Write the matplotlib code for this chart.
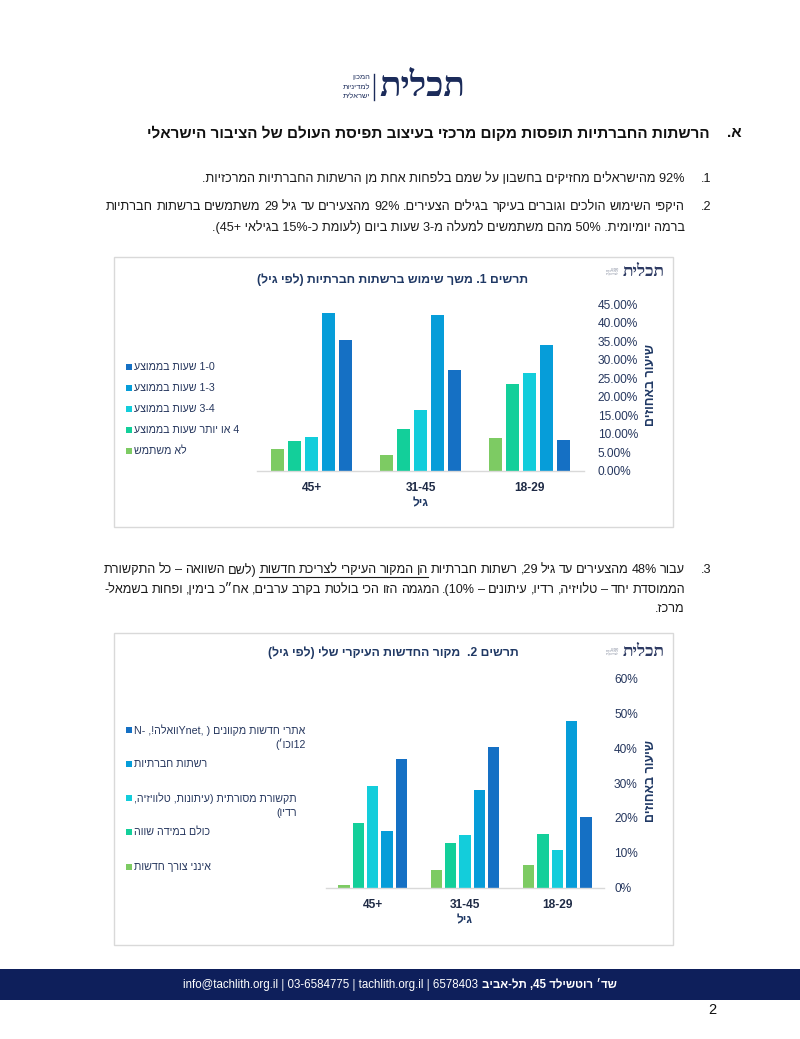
import re
import numpy as np
import matplotlib
matplotlib.use("Agg")
import matplotlib.pyplot as plt
from matplotlib import font_manager as fm
from matplotlib.ft2font import FT2Font
from matplotlib.patches import Rectangle

W, H = 800, 1039

# ---------------- data ----------------
age_groups = ["18-29", "31-45", "45+"]

usage_series = ["1-0 שעות בממוצע", "1-3 שעות בממוצע", "3-4 שעות בממוצע",
                "4 או יותר שעות בממוצע", "לא משתמש"]
usage_0_1 = [8.3, 27.1, 35.3]
usage_1_3 = [34.0, 42.0, 42.7]
usage_3_4 = [26.4, 16.4, 9.0]
usage_4_plus = [23.5, 11.4, 8.1]
usage_none = [8.9, 4.3, 6.0]
usage_ticks = [0, 5, 10, 15, 20, 25, 30, 35, 40, 45]
usage_tick_labels = ["0.00%", "5.00%", "10.00%", "15.00%", "20.00%",
                     "25.00%", "30.00%", "35.00%", "40.00%", "45.00%"]

news_series = [["RAW:N- ,!הלאווYnet, ) םינווקמ תושדח ירתא", "12וכו׳)"],
               ["רשתות חברתיות"],
               ["תקשורת מסורתית (עיתונות, טלוויזיה,", "רדיו)"],
               ["כולם במידה שווה"],
               ["אינני צורך חדשות"]]
news_sites = [20.4, 40.4, 36.9]
news_social = [47.9, 27.9, 16.2]
news_traditional = [10.8, 15.1, 29.0]
news_all_equal = [15.4, 12.7, 18.4]
news_none = [6.6, 5.0, 0.7]
news_ticks = [0, 10, 20, 30, 40, 50, 60]
news_tick_labels = ["0%", "10%", "20%", "30%", "40%", "50%", "60%"]

chart1_title = "תרשים 1. משך שימוש ברשתות חברתיות (לפי גיל)"
chart2_title = "תרשים 2.  מקור החדשות העיקרי שלי (לפי גיל)"
y_title = "שיעור באחוזים"
x_title = "גיל"

heading = "הרשתות החברתיות תופסות מקום מרכזי בעיצוב תפיסת העולם של הציבור הישראלי"
item1 = "92% מהישראלים מחזיקים בחשבון על שמם בלפחות אחת מן הרשתות החברתיות המרכזיות."
item2a = "היקפי השימוש הולכים וגוברים בעיקר בגילים הצעירים. 92% מהצעירים עד גיל 29 משתמשים ברשתות חברתיות"
item2b = "ברמה יומיומית. 50% מהם משתמשים למעלה מ-3 שעות ביום (לעומת כ-15% בגילאי 45+)."
item3a = "עבור 48% מהצעירים עד גיל 29, רשתות חברתיות הן המקור העיקרי לצריכת חדשות (לשם השוואה – כל התקשורת"
item3b = "הממוסדת יחד – טלויזיה, רדיו, עיתונים – 10%). המגמה הזו הכי בולטת בקרב ערבים, אח״כ בימין, ופחות בשמאל-"
item3c = "מרכז."
footer_latin = "info@tachlith.org.il | 03-6584775 | tachlith.org.il | 6578403 "
footer_heb = "שד׳ רוטשילד 45, תל-אביב"
logo_name = "תכלית"
logo_sub = ["המכון", "למדיניות", "ישראלית"]

# ---------------- colors ----------------
C_DARK = "#1570C4"
C_BLUE = "#069DD9"
C_CYAN = "#13CDDB"
C_GREEN = "#13CF9A"
C_LGREEN = "#7DCB63"
NAVY = "#1F3864"
TICK = "#26375E"
LOGO = "#1B2B5A"


# ---------------- helpers ----------------
MIRROR = {"(": ")", ")": "(", "[": "]", "]": "["}
LTR_RE = re.compile(r"[A-Za-z0-9@][A-Za-z0-9@.%+\-_/:]*[A-Za-z0-9%+]|[A-Za-z0-9]")


def vis(s):
    """Very small RTL reordering for display with a LTR text engine."""
    if s.startswith("RAW:"):
        return s[4:]
    out = []
    pos = 0
    for m in LTR_RE.finditer(s):
        out.extend(MIRROR.get(c, c) for c in s[pos:m.start()])
        out.append(m.group())
        pos = m.end()
    out.extend(MIRROR.get(c, c) for c in s[pos:])
    return "".join(reversed(out))


def has_hebrew(family, weight="normal"):
    try:
        path = fm.findfont(fm.FontProperties(family=family, weight=weight),
                           fallback_to_default=False)
        return FT2Font(path).get_char_index(ord("ש")) != 0
    except Exception:
        return False


SANS = "Liberation Sans" if has_hebrew("Liberation Sans") else "DejaVu Sans"
BODY = SANS
for cand in ["Liberation Sans Narrow", "Arial Narrow"]:
    if has_hebrew(cand):
        BODY = cand
        break
SERIF = SANS
for cand in ["Liberation Serif", "DejaVu Serif"]:
    if has_hebrew(cand):
        SERIF = cand
        break
BODYF = [BODY, SANS, "DejaVu Sans"]
SANSF = [SANS, "DejaVu Sans"]
SERIFF = [SERIF, SANS, "DejaVu Sans"]

fig = plt.figure(figsize=(W / 100, H / 100), dpi=100)
bg = fig.add_axes([0, 0, 1, 1])
bg.set_xlim(0, W)
bg.set_ylim(H, 0)
bg.axis("off")
renderer = fig.canvas.get_renderer()


def width_px(t):
    return t.get_window_extent(renderer).width


def txt(x, y, s, **kw):
    kw.setdefault("va", "center")
    return bg.text(x, y, s, **kw)


def fit_size(s, target, family, weight="normal", base=10):
    t = txt(0, -100, s, fontsize=base, family=family, fontweight=weight)
    w = width_px(t)
    t.remove()
    return base * target / w


def justified(line, x_left, x_right, y, fs, family, color, underline=None):
    words = line.split(" ")
    arts, widths = [], []
    for w in words:
        t = txt(0, y, vis(w), fontsize=fs, family=family, color=color, ha="left")
        arts.append(t)
        widths.append(width_px(t))
    gap = (x_right - x_left - sum(widths)) / (len(words) - 1)
    x = x_right
    spans = []
    for t, wd in zip(arts, widths):
        t.set_x(x - wd)
        spans.append((x - wd, x))
        x -= wd + gap
    if underline is not None:
        i0, i1 = underline
        bg.plot([spans[i1][0], spans[i0][1]], [y + 7, y + 7], color=color, lw=0.8)


# ---------------- header logo ----------------
fs_logo = fit_size(vis(logo_name), 86, SERIFF, "bold")
txt(465, 87, vis(logo_name), fontsize=fs_logo, family=SERIFF, color=LOGO,
    ha="right", fontweight="bold")
bg.plot([374, 374], [74, 100], color=LOGO, lw=1.0)
for k, w in enumerate(logo_sub):
    txt(370, 78 + k * 9, vis(w), fontsize=5.4, family=SANSF, color=LOGO, ha="right")

# ---------------- body text ----------------
TXT = "#1A1A1A"
RIGHT = 685
fs_body = fit_size(vis(item1), 479, BODYF)
fs_head = fit_size(vis(heading), 564, BODYF, "bold")

txt(742, 133, ".א", fontsize=fs_head, family=BODYF, fontweight="bold", color="#111", ha="right")
txt(710, 133, vis(heading), fontsize=fs_head, family=BODYF, fontweight="bold",
    color="#111", ha="right")

for num, y in [(".1", 179), (".2", 207), (".3", 570)]:
    txt(711, y, num, fontsize=fs_body, family=BODYF, color=TXT, ha="right")

txt(RIGHT, 179, vis(item1), fontsize=fs_body, family=BODYF, color=TXT, ha="right")
justified(item2a, 106, RIGHT, 207, fs_body, BODYF, TXT)
txt(RIGHT, 227, vis(item2b), fontsize=fs_body, family=BODYF, color=TXT, ha="right")
justified(item3a, 104, RIGHT, 570, fs_body, BODYF, TXT, underline=(8, 12))
justified(item3b, 104, RIGHT, 590, fs_body, BODYF, TXT)
txt(RIGHT, 609, vis(item3c), fontsize=fs_body, family=BODYF, color=TXT, ha="right")


# ---------------- charts ----------------
def axes_px(x0, y_top, x1, y_bot):
    return fig.add_axes([x0 / W, 1 - y_bot / H, (x1 - x0) / W, (y_bot - y_top) / H])


def chart(box, plot, series, colors, ticks, tick_labels, bar_w, pitch, title, title_y,
          legend_lines, legend_ys, xlabel_y, tick_pad, xtick_pad, logo_y):
    bx0, by0, bx1, by1 = box
    bg.add_patch(Rectangle((bx0, by0), bx1 - bx0, by1 - by0, facecolor="white",
                           edgecolor="#D9D9D9", lw=1.0, zorder=0))
    ax = axes_px(*plot)
    ax.set_facecolor("none")
    x = np.arange(len(age_groups))
    n = len(series)
    for i, (vals, col) in enumerate(zip(series, colors)):
        ax.bar(x + (i - (n - 1) / 2) * pitch, vals, width=bar_w, color=col, zorder=2)
    ax.set_xlim(len(age_groups) - 0.5, -0.5)
    ax.set_ylim(ticks[0], ticks[-1])
    ax.set_xticks(x)
    ax.set_xticklabels(age_groups, fontsize=8.6, fontweight="bold", family=SANSF, color="#1E2A45")
    ax.yaxis.tick_right()
    ax.set_yticks(ticks)
    ax.set_yticklabels(tick_labels, fontsize=8.6, family=SANSF, color=TICK)
    ax.tick_params(axis="y", length=0, pad=tick_pad)
    ax.tick_params(axis="x", length=0, pad=xtick_pad)
    for side in ["top", "left", "right"]:
        ax.spines[side].set_visible(False)
    ax.spines["bottom"].set_color("#D9D9D9")
    ax.spines["bottom"].set_linewidth(1.0)

    txt(393, title_y, vis(title), fontsize=8.8, fontweight="bold", family=SANSF,
        color=NAVY, ha="center")
    txt((plot[0] + plot[2]) / 2, xlabel_y, vis(x_title), fontsize=8.6, fontweight="bold",
        family=SANSF, color=NAVY, ha="center")
    txt(651, (plot[1] + plot[3]) / 2 - 2, vis(y_title), fontsize=9, fontweight="bold",
        family=SANSF, color=NAVY, ha="center", rotation=90, rotation_mode="anchor")
    # small logo
    txt(665, logo_y, vis(logo_name), fontsize=12.5, family=SERIFF, color="#2E3B63",
        ha="right", fontweight="bold")
    for k, w in enumerate(logo_sub):
        txt(619, logo_y - 3 + k * 3, vis(w), fontsize=2.6, family=SANSF, color="#8E95A6", ha="right")
    # legend
    for lines, col, ly in zip(legend_lines, colors, legend_ys):
        bg.add_patch(Rectangle((126, ly - 3), 6, 6, facecolor=col, edgecolor="none"))
        arts = [txt(134, ly + k * 14.5, vis(s), fontsize=7.7, family=SANSF, color=TICK,
                    ha="left") for k, s in enumerate(lines)]
        ws = [width_px(a) for a in arts]
        right = 134 + max(ws)
        for a in arts:
            a.set_ha("right")
            a.set_x(right)
    return ax


chart((114, 257, 673, 527), (257, 304.3, 584, 470.7),
      [usage_0_1, usage_1_3, usage_3_4, usage_4_plus, usage_none],
      [C_DARK, C_BLUE, C_CYAN, C_GREEN, C_LGREEN],
      usage_ticks, usage_tick_labels, 0.121, 0.157,
      chart1_title, 280, [[s] for s in usage_series], [367, 388, 409, 430, 451],
      503, 10, 8, 272)

chart((114, 633, 673, 945), (326.4, 678.3, 603.6, 887.7),
      [news_sites, news_social, news_traditional, news_all_equal, news_none],
      [C_DARK, C_BLUE, C_CYAN, C_GREEN, C_LGREEN],
      news_ticks, news_tick_labels, 0.124, 0.155,
      chart2_title, 653, news_series, [730, 764, 798, 832, 867],
      920, 7.5, 8, 652)

# ---------------- footer ----------------
bg.add_patch(Rectangle((0, 969), W, 31, facecolor="#0E1F5B", edgecolor="none"))
fl = txt(0, 985, footer_latin, fontsize=8.3, family=SANSF, color="white", ha="left")
fh = txt(0, 985, vis(footer_heb), fontsize=8.3, family=SANSF, color="white",
         fontweight="bold", ha="left")
wl, wh = width_px(fl), width_px(fh)
x0 = 400 - (wl + wh) / 2
fl.set_x(x0)
fh.set_x(x0 + wl)
txt(712, 1010, "2", fontsize=10.5, family=SANSF, color="#111", ha="center")

fig.savefig("out.png", dpi=100)
